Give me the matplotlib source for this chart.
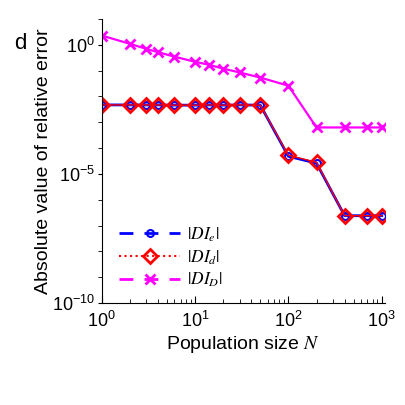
import matplotlib
matplotlib.use("Agg")
import matplotlib.pyplot as plt
from matplotlib.lines import Line2D
import numpy as np

plt.rcParams['font.family'] = ['Liberation Sans', 'DejaVu Sans']
plt.rcParams['mathtext.fontset'] = 'stix'

N = [1, 2, 3, 4, 6, 10, 14, 20, 30, 50, 100, 200, 400, 700, 1000]
DIe = [4.7e-3, 4.7e-3, 4.7e-3, 4.7e-3, 4.6e-3, 4.6e-3, 4.7e-3, 4.6e-3, 4.7e-3, 4.6e-3,
       4.8e-5, 2.6e-5, 2.4e-7, 2.4e-7, 2.4e-7]
DId = [4.7e-3, 4.7e-3, 4.7e-3, 4.7e-3, 4.6e-3, 4.6e-3, 4.7e-3, 4.6e-3, 4.7e-3, 4.6e-3,
       5.3e-5, 2.8e-5, 2.4e-7, 2.4e-7, 2.4e-7]
DID = [2.3, 1.1, 0.7, 0.52, 0.35, 0.22, 0.17, 0.12, 0.085, 0.054,
       0.026, 6.3e-4, 6.3e-4, 6.3e-4, 6.3e-4]
labels = [r'$|DI_e|$', r'$|DI_d|$', r'$|DI_D|$']

fig = plt.figure(figsize=(4.05, 4.05), dpi=100)
ax = fig.add_axes([0.251, 0.252, 0.700, 0.701])

ax.plot(N, DID, color='#ff00ff', lw=1.6, marker='x', ms=7, mew=2)
ax.plot(N, DIe, color='#0000ff', lw=2.0, marker='o', ms=5, mfc='none', mew=1.5)
ax.plot(N, DId, color='#ff0000', lw=1.0, marker='D', ms=7, mfc='none', mew=2)

ax.set_xscale('log')
ax.set_yscale('log')
ax.set_xlim(1, 1087)
ax.set_ylim(1e-10, 1e1)
ax.spines['top'].set_visible(False)
ax.spines['right'].set_visible(False)
ax.set_xticks([1, 10, 100, 1000])
ax.set_yticks([1e-10, 1e-5, 1e0])
ax.yaxis.set_minor_locator(matplotlib.ticker.FixedLocator([10.0**k for k in range(-9, 2) if k not in (-5, 0)]))
ax.yaxis.set_minor_formatter(matplotlib.ticker.NullFormatter())
ax.tick_params(axis='x', which='major', direction='in', length=5, labelsize=13, pad=6)
ax.tick_params(axis='x', which='minor', direction='in', length=3)
ax.tick_params(axis='y', which='both', direction='out', length=3, labelsize=13, pad=2)
ax.set_xlabel(r'Population size $N$', fontsize=14, labelpad=2)
ax.set_ylabel('Absolute value of relative error', fontsize=14, labelpad=0)

handles = [
    Line2D([], [], color='#0000ff', lw=2, ls=(0, (5, 4)), marker='o', ms=5, mfc='none', mew=1.5),
    Line2D([], [], color='#ff0000', lw=1.5, ls=':', marker='D', ms=7, mfc='none', mew=2),
    Line2D([], [], color='#ff00ff', lw=2, ls=(0, (5, 4)), marker='x', ms=7, mew=2),
]
ax.legend(handles, labels, loc='lower left', bbox_to_anchor=(0.02, 0.005), frameon=False,
          fontsize=12.5, handlelength=3.5, labelspacing=0.25, handletextpad=0.4,
          borderpad=0.2)

fig.text(0.035, 0.88, 'd', fontsize=16)
fig.savefig('out.png', dpi=100)
